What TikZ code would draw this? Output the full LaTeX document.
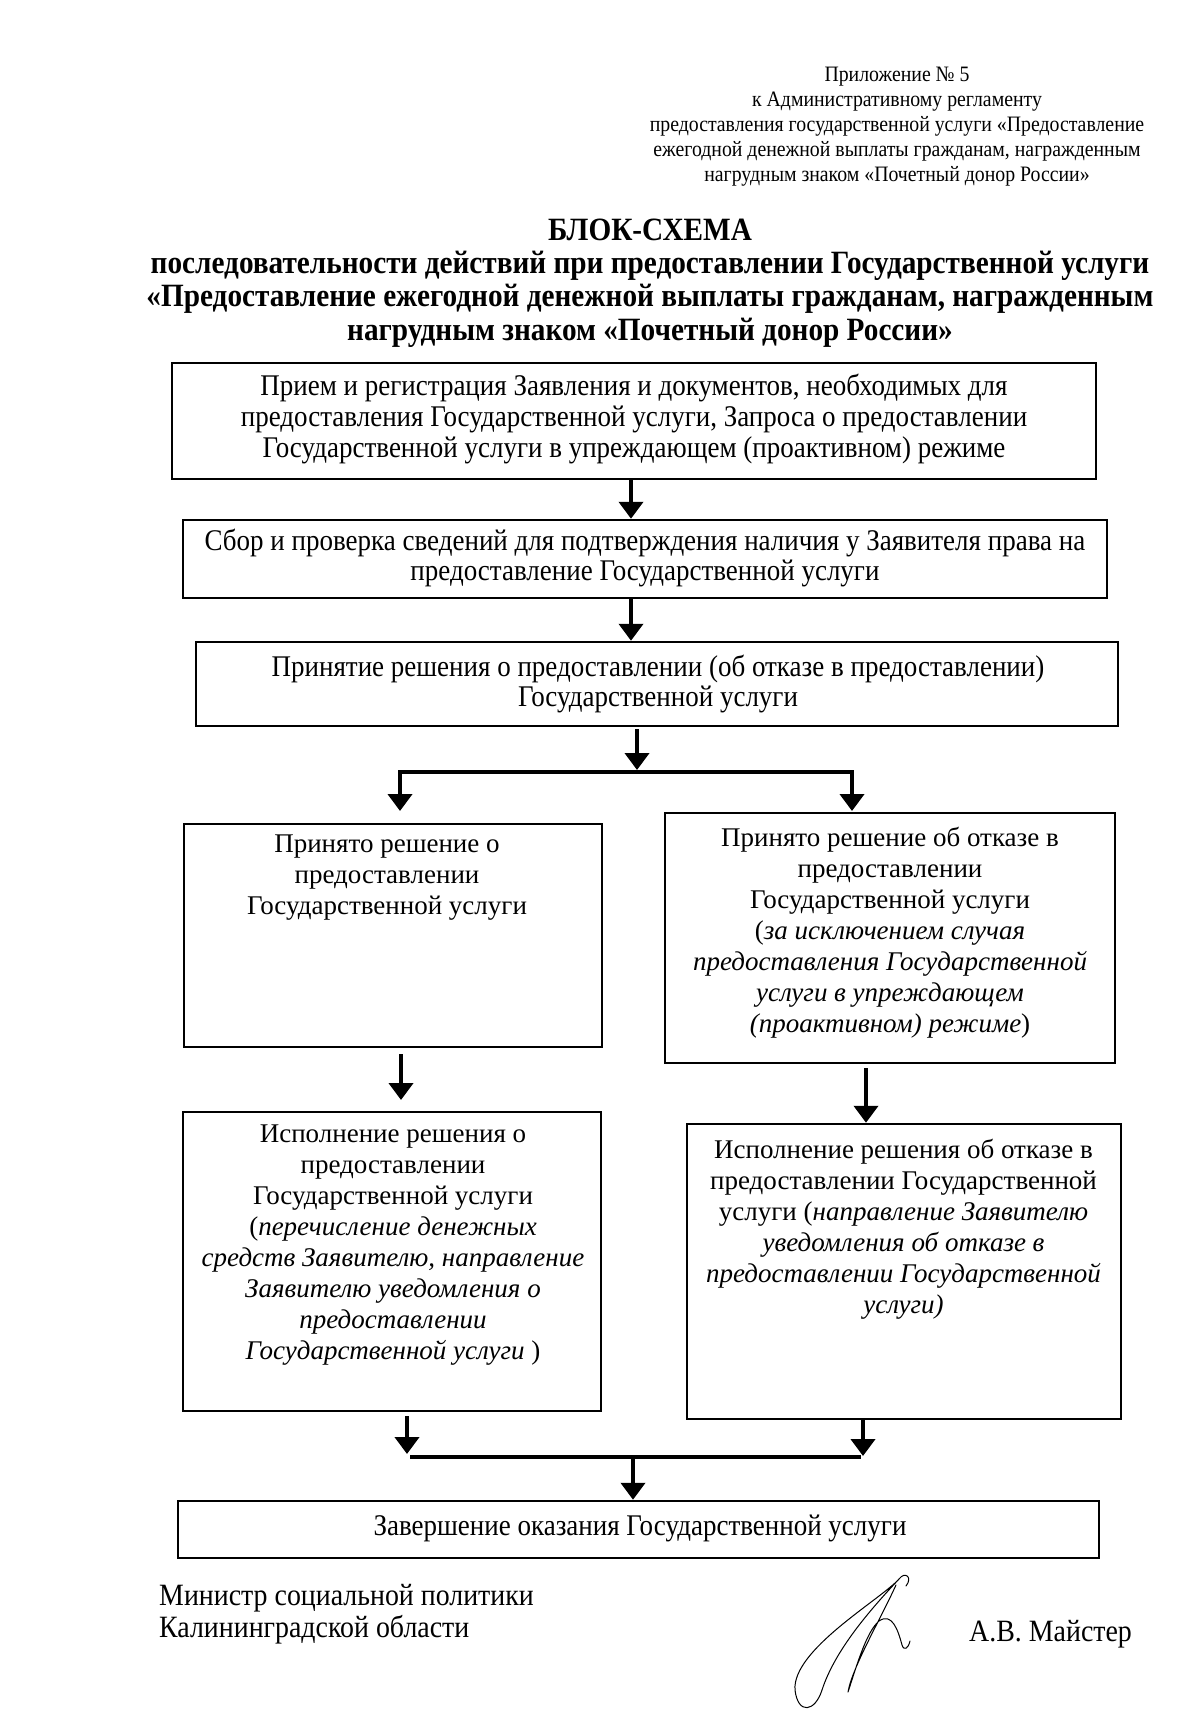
\documentclass[tikz,border=0pt]{standalone}
\usepackage{fontspec}
\setmainfont{Liberation Serif}
\newfontfamily\condf[FakeStretch=0.90]{Liberation Serif}
\usetikzlibrary{arrows.meta,calc}
\begin{document}
\begin{tikzpicture}[x=1pt,y=-1pt,
 box/.style={draw,line width=2.5pt,rectangle,inner sep=0pt},
 arr/.style={line width=4pt,-{Triangle[width=24pt,length=17pt]}},
 bar/.style={line width=4pt},
 ctext/.style={font=\condf\fontsize{30}{30.6}\selectfont,align=center,inner sep=0pt},
 ntext/.style={font=\fontsize{27}{31}\selectfont,align=center,inner sep=0pt},
 htext/.style={font=\condf\fontsize{22}{25}\selectfont,align=center,inner sep=0pt},
 ttext/.style={font=\condf\bfseries\fontsize{32.5}{33.4}\selectfont,align=center,inner sep=0pt},
 stext/.style={font=\condf\fontsize{31}{32}\selectfont,align=left,inner sep=0pt},
 sig/.style={line width=1pt,line cap=round,line join=round},
]
\useasboundingbox (0,0) rectangle (1200,1715);
\fill[white] (0,0) rectangle (1200,1715);

\node[htext] (hdr) at (897,127) {Приложение № 5\\к Административному регламенту\\предоставления государственной услуги «Предоставление\\ежегодной денежной выплаты гражданам, награжденным\\нагрудным знаком «Почетный донор России»};

\node[ttext] (title) at (650,283) {БЛОК-СХЕМА\\последовательности действий при предоставлении Государственной услуги\\«Предоставление ежегодной денежной выплаты гражданам, награжденным\\нагрудным знаком «Почетный донор России»};

\node[box,minimum width=924pt,minimum height=116pt] (b1) at (634,421) {};
\node[ctext] (t1) at (634,419) {Прием и регистрация Заявления и документов, необходимых для\\предоставления Государственной услуги, Запроса о предоставлении\\Государственной услуги в упреждающем (проактивном) режиме};

\node[box,minimum width=924pt,minimum height=78pt] (b2) at (645,559) {};
\node[ctext] (t2) at (645,558) {Сбор и проверка сведений для подтверждения наличия у Заявителя права на\\предоставление Государственной услуги};

\node[box,minimum width=922pt,minimum height=84pt] (b3) at (657,684) {};
\node[ctext] (t3) at (658,684) {Принятие решения о предоставлении (об отказе в предоставлении)\\Государственной услуги};

\node[box,minimum width=418pt,minimum height=223pt] (b4) at (393,935.5) {};
\node[ntext] (t4) at (387,878) {Принято решение о\\предоставлении\\Государственной услуги};

\node[box,minimum width=450pt,minimum height=250pt] (b5) at (890,938) {};
\node[ntext] (t5) at (890,933) {Принято решение об отказе в\\предоставлении\\Государственной услуги\\(\itshape за исключением случая\\\itshape предоставления Государственной\\\itshape услуги в упреждающем\\\itshape (проактивном) режиме\upshape)};

\node[box,minimum width=418pt,minimum height=299pt] (b6) at (392,1261.5) {};
\node[ntext] (t6) at (393,1245.5) {Исполнение решения о\\предоставлении\\Государственной услуги\\(\itshape перечисление денежных\\\itshape средств Заявителю, направление\\\itshape Заявителю уведомления о\\\itshape предоставлении\\\itshape Государственной услуги\upshape\ )};

\node[box,minimum width=434pt,minimum height=295pt] (b7) at (904,1271.5) {};
\node[ntext] (t7) at (903.5,1229.5) {Исполнение решения об отказе в\\предоставлении Государственной\\услуги (\itshape направление Заявителю\\\itshape уведомления об отказе в\\\itshape предоставлении Государственной\\\itshape услуги)};

\node[box,minimum width=921pt,minimum height=57pt] (b8) at (638.5,1529.5) {};
\node[ctext] (t8) at (640,1528) {Завершение оказания Государственной услуги};

% connectors
\draw[arr] (631,0 |- b1.south) -- (631,0 |- b2.north);
\draw[arr] (631,0 |- b2.south) -- (631,0 |- b3.north);

\coordinate (sM) at (637,772);
\coordinate (sL) at (400,772);
\coordinate (sR) at (852,772);
\coordinate (eL) at (400,811);
\coordinate (eR) at (852,811);
\draw[arr] ([yshift=-2pt]637,0 |- b3.south) -- ([yshift=2pt]sM);
\draw[arr,line join=miter] (sR) -- (sL) -- (eL);
\draw[arr] ([yshift=2pt]sR) -- (eR);

\coordinate (dL) at (401,1100);
\draw[arr] ([yshift=-6pt]401,0 |- b4.south) -- (dL);
\draw[arr] ([yshift=-4pt]866,0 |- b5.south) -- (866,0 |- b7.north);

\coordinate (mL) at (407,1454);
\coordinate (mR) at (863,1456);
\coordinate (mM) at (633,1457);
\draw[arr] ([yshift=-4pt]407,0 |- b6.south) -- (mL);
\draw[arr] (863,0 |- b7.south) -- (mR);
\draw[bar] (410,1457) -- (861,1457);
\draw[arr] (mM) -- (633,0 |- b8.north);

% signature block
\node[stext,anchor=west] (min) at (159,1614) {Министр социальной политики\\Калининградской области};
\node[stext,anchor=west] (name) at (969,1634) {А.В. Майстер};

\draw[sig] (899,1579) .. controls (880,1600) and (792,1650) .. (795,1690) .. controls (798,1715) and (815,1712) .. (822,1690) .. controls (835,1650) and (870,1610) .. (899,1579);
\draw[sig] (899,1579) .. controls (905,1571) and (913,1577) .. (906,1586);
\draw[sig] (896,1585) .. controls (880,1620) and (852,1668) .. (848,1692) .. controls (856,1668) and (866,1632) .. (879,1621) .. controls (892,1612) and (898,1630) .. (902,1645) .. controls (904,1651) and (908,1649) .. (910,1641);
\end{tikzpicture}
\end{document}
